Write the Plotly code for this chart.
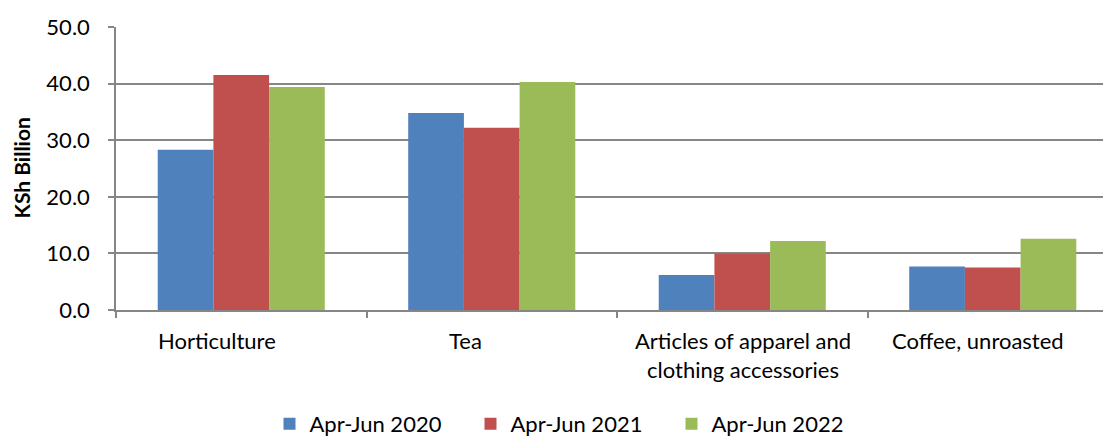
import plotly.graph_objects as go

categories = ["Horticulture", "Tea", "Articles of apparel and<br>clothing accessories", "Coffee, unroasted"]
series_names = ["Apr-Jun 2020", "Apr-Jun 2021", "Apr-Jun 2022"]
v2020 = [28.3, 34.8, 6.2, 7.7]
v2021 = [41.5, 32.2, 10.0, 7.5]
v2022 = [39.4, 40.3, 12.2, 12.6]
colors = ["#4F81BD", "#C0504D", "#9BBB59"]
y_ticks = [0, 10, 20, 30, 40, 50]
y_ticklabels = ["0.0", "10.0", "20.0", "30.0", "40.0", "50.0"]

# label nudges (pixels) as seen in the reference's category labels
label_shift_px = [-24, -26, 1, -15]

FONT = "Lato, Calibri, Carlito, sans-serif"

fig = go.Figure()
for name, vals, col in zip(series_names, [v2020, v2021, v2022], colors):
    fig.add_trace(go.Bar(x=categories, y=vals, name=name,
                         marker=dict(color=col, line=dict(width=0))))

# page has an 8px body margin; figure origin sits at (8, 8)
OFF = 8
W, H = 1111 - OFF, 437 - OFF
ml, mr, mt = 116 - OFF, 0, 27 - OFF
plot_bottom = 310 - OFF
mb = H - plot_bottom
pw = W - ml - mr
ph = plot_bottom - mt
xr = [-0.5, 3.472]
px_per_cat = pw / (xr[1] - xr[0])

label_pos = [i + s / px_per_cat for i, s in enumerate(label_shift_px)]

annotations = [dict(text=lab, xref="x", yref="paper", x=pos, y=0,
                    xanchor="center", yanchor="top", yshift=-15, align="center",
                    showarrow=False, font=dict(size=22, family=FONT))
               for lab, pos in zip(categories, label_pos)]
annotations.append(dict(text="<b>KSh Billion</b>", textangle=-90,
                        xref="paper", yref="paper",
                        x=(21 - OFF - ml) / pw, y=0.5, xanchor="center", yanchor="middle",
                        showarrow=False, font=dict(size=21, family=FONT)))

fig.update_layout(
    width=W, height=H,
    margin=dict(l=ml, r=mr, t=mt, b=mb, autoexpand=False),
    paper_bgcolor="white", plot_bgcolor="white",
    barmode="group", bargap=0.333, bargroupgap=0,
    font=dict(family=FONT, color="black"),
    showlegend=True,
    legend=dict(orientation="h", x=(571 - OFF - ml) / pw, xanchor="center",
                y=-((424 - OFF) - plot_bottom) / ph,
                yanchor="middle", font=dict(size=22, family=FONT),
                itemwidth=30, tracegroupgap=0,
                entrywidth=156, entrywidthmode="pixels"),
    xaxis=dict(
        type="category", range=xr, tickson="boundaries",
        ticks="outside", ticklen=6, tickcolor="#868686", tickwidth=1.5,
        showline=True, linecolor="#868686", linewidth=1.5,
        showgrid=False, showticklabels=False,
        fixedrange=True,
    ),
    yaxis=dict(
        range=[0, 50], tickvals=y_ticks, ticktext=y_ticklabels,
        ticks="outside", ticklen=6, tickcolor="#868686", tickwidth=1.5,
        showline=True, linecolor="#868686", linewidth=1.5,
        showgrid=True, gridcolor="#868686", gridwidth=1.5,
        zeroline=False, tickfont=dict(size=22, family=FONT),
        ticklabelstandoff=14,
    ),
    annotations=annotations,
)

fig.write_html("out.html")
